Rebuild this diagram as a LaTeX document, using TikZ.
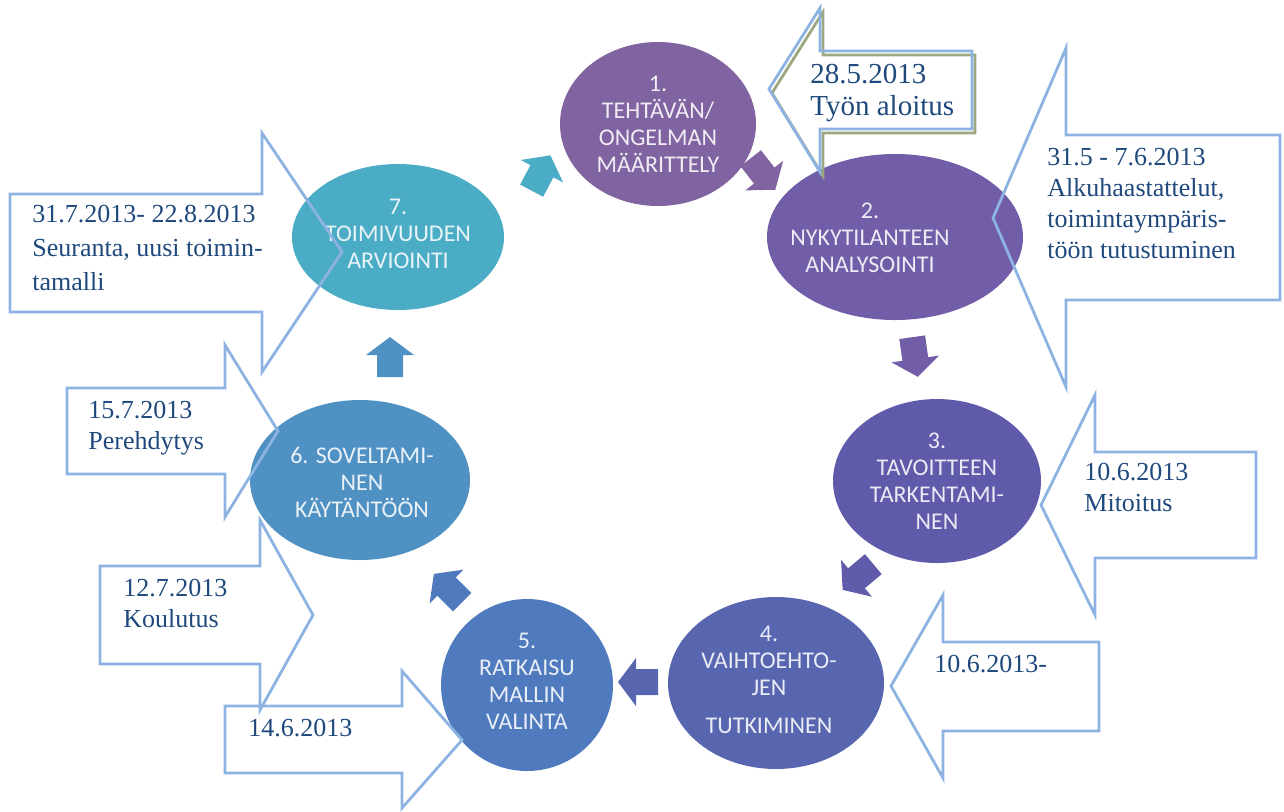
\documentclass[tikz,border=0pt]{standalone}
\usepackage{fontspec}
\setmainfont{Liberation Serif}
\newfontfamily\carlito{Carlito}
\usetikzlibrary{shapes.geometric}
\definecolor{c1}{RGB}{128,100,162}
\definecolor{c2}{RGB}{114,94,168}
\definecolor{c3}{RGB}{96,90,171}
\definecolor{c4}{RGB}{88,102,176}
\definecolor{c5}{RGB}{80,122,190}
\definecolor{c6}{RGB}{80,145,196}
\definecolor{c7}{RGB}{75,172,198}
\definecolor{callline}{RGB}{141,179,226}
\definecolor{calltext}{RGB}{31,73,125}
\definecolor{shadowol}{RGB}{155,168,128}
\newcommand{\blkarrow}[4]{%
  \fill[#4, shift={(#1,#2)}, rotate=#3]
    (-20,-13) -- (2,-13) -- (2,-24) -- (20,0) -- (2,24) -- (2,13) -- (-20,13) -- cycle;}
\begin{document}
\begin{tikzpicture}[x=0.5pt,y=-0.5pt]
\tikzset{
  ell/.style={ellipse, inner sep=0pt, draw=none},
  etext/.style={align=center, text=white, text opacity=0.88, font=\carlito\fontsize{12}{13.5}\selectfont, inner sep=0pt},
  ctext/.style={anchor=base west, inner sep=0pt, text=calltext, font=\fontsize{13}{15.5}\selectfont},
  callout/.style={draw=callline, line width=1.4pt, line join=miter},
}
\useasboundingbox (0,0) rectangle (1284,811);
% ellipses
\node[ell, fill=c1, minimum width=98pt, minimum height=82pt] (e1) at (658,124) {};
\node[ell, fill=c2, minimum width=128pt, minimum height=83pt] (e2) at (895,237) {};
\node[ell, fill=c3, minimum width=104pt, minimum height=82pt] (e3) at (937,481) {};
\node[ell, fill=c4, minimum width=108pt, minimum height=86pt] (e4) at (776,683) {};
\node[ell, fill=c5, minimum width=86pt, minimum height=86pt] (e5) at (527,685) {};
\node[ell, fill=c6, minimum width=110pt, minimum height=80pt] (e6) at (360,480) {};
\node[ell, fill=c7, minimum width=106pt, minimum height=73pt] (e7) at (398,237) {};
% ellipse texts
\node[etext] (t1) at (658,124) {1.\\TEHTÄVÄN/\\ONGELMAN\\MÄÄRITTELY};
\node[etext] (t2) at (870,238) {2.\\NYKYTILANTEEN\\ANALYSOINTI};
\node[etext] (t3) at (937,481) {3.\\TAVOITTEEN\\TARKENTAMI-\\NEN};
\node[etext] (t4) at (769,680) {4.\\VAIHTOEHTO-\\JEN\\[5.5pt]TUTKIMINEN};
\node[etext] (t5) at (527,681) {5.\\RATKAISU\\MALLIN\\VALINTA};
\node[etext] (t6) at (362,482) {6. SOVELTAMI-\\NEN\\KÄYTÄNTÖÖN};
\node[etext] (t7) at (398,234) {7.\\TOIMIVUUDEN\\ARVIOINTI};
% cycle arrows
\blkarrow{541}{173}{62}{c7}
\blkarrow{763}{174}{-52}{c1}
\blkarrow{915}{357}{-82}{c2}
\blkarrow{858}{577}{-140}{c3}
\blkarrow{638}{682}{180}{c4}
\blkarrow{448}{588}{135}{c5}
\blkarrow{390}{357}{90}{c6}
% callouts
\draw[draw=shadowol, line width=1.4pt, shift={(3,4)}] (769,89) -- (820,8) -- (820,51) -- (972,51) -- (972,129) -- (820,129) -- (820,172) -- cycle;
\draw[callout] (769,89) -- (820,8) -- (820,51) -- (972,51) -- (972,129) -- (820,129) -- (820,172) -- cycle;
\draw[callout] (993,218) -- (1066,48) -- (1066,135) -- (1280,135) -- (1280,300) -- (1066,300) -- (1066,387) -- cycle;
\draw[callout] (1041,505) -- (1095,395) -- (1095,452) -- (1256,452) -- (1256,558) -- (1095,558) -- (1095,615) -- cycle;
\draw[callout] (891,686) -- (943,595) -- (943,642) -- (1099,642) -- (1099,731) -- (943,731) -- (943,778) -- cycle;
\draw[callout] (225,706) -- (402,706) -- (402,671) -- (462,740) -- (402,808) -- (402,773) -- (225,773) -- cycle;
\draw[callout] (100,566) -- (260,566) -- (260,520) -- (313,615) -- (260,710) -- (260,664) -- (100,664) -- cycle;
\draw[callout] (67,388) -- (225,388) -- (225,345) -- (278,431) -- (225,517) -- (225,474) -- (67,474) -- cycle;
\draw[callout] (10,194) -- (262,194) -- (262,133) -- (342,252) -- (262,372) -- (262,312) -- (10,312) -- cycle;
% callout texts
\node[ctext, font=\fontsize{14.5}{16}\selectfont] (ta) at (810,83) {\begin{tabular}[t]{@{}l@{}}28.5.2013\\Työn aloitus\end{tabular}};
\node[ctext] (tb) at (1047,165) {\begin{tabular}[t]{@{}l@{}}31.5 - 7.6.2013\\Alkuhaastattelut,\\toimintaympäris-\\töön tutustuminen\end{tabular}};
\node[ctext] (tc) at (1084,480) {\begin{tabular}[t]{@{}l@{}}10.6.2013\\Mitoitus\end{tabular}};
\node[ctext] (td) at (934,672) {10.6.2013-};
\node[ctext] (te) at (248,736) {14.6.2013};
\node[ctext] (tf) at (123,596) {\begin{tabular}[t]{@{}l@{}}12.7.2013\\Koulutus\end{tabular}};
\node[ctext] (tg) at (88,418) {\begin{tabular}[t]{@{}l@{}}15.7.2013\\Perehdytys\end{tabular}};
\node[ctext, font=\fontsize{13}{17}\selectfont] (th) at (32,222) {\begin{tabular}[t]{@{}l@{}}31.7.2013- 22.8.2013\\Seuranta, uusi toimin-\\tamalli\end{tabular}};
\end{tikzpicture}
\end{document}
